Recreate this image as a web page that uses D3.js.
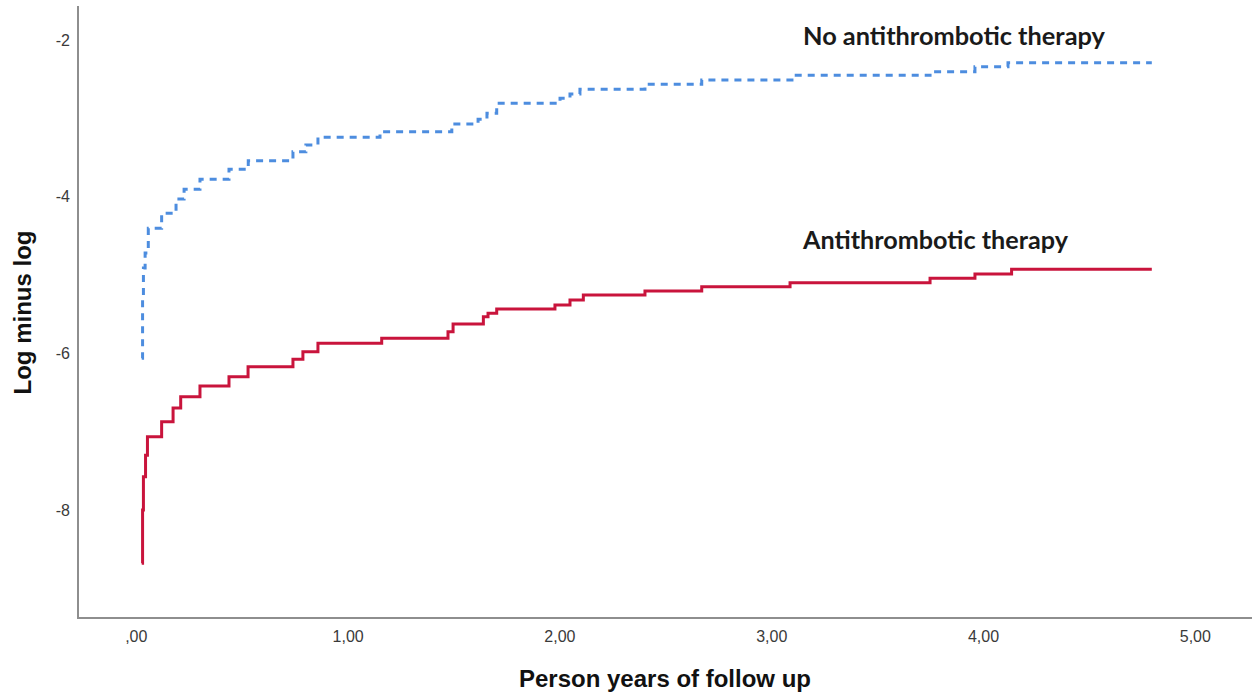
<!DOCTYPE html>
<html>
<head>
<meta charset="utf-8">
<script src="https://cdn.jsdelivr.net/npm/d3@7"></script>
<style>
  body { margin: 0; background: #fff; }
  svg { display: block; }
</style>
</head>
<body>
<div class="visual"></div>
<script>
// step points (time in years, log minus log value)
const redTimes  = [0.028, 0.032, 0.036, 0.046, 0.055, 0.122, 0.176, 0.212, 0.303, 0.440, 0.530, 0.742, 0.789, 0.860, 1.161, 1.474, 1.498, 1.641, 1.663, 1.704, 1.979, 2.050, 2.113, 2.404, 2.672, 3.089, 3.750, 3.962, 4.135, 4.797];
const redValues = [-8.68, -8.00, -7.575, -7.30, -7.064, -6.873, -6.698, -6.554, -6.417, -6.298, -6.171, -6.076, -5.979, -5.872, -5.808, -5.724, -5.626, -5.532, -5.489, -5.434, -5.383, -5.319, -5.255, -5.204, -5.149, -5.098, -5.042, -4.987, -4.927, -4.927];

const blueTimes  = [0.028, 0.032, 0.036, 0.044, 0.059, 0.122, 0.190, 0.228, 0.303, 0.440, 0.531, 0.742, 0.803, 0.860, 1.153, 1.492, 1.616, 1.658, 1.704, 2.003, 2.050, 2.097, 2.404, 2.672, 3.098, 3.750, 3.962, 4.118, 4.797];
const blueValues = [-6.064, -5.319, -4.911, -4.719, -4.404, -4.212, -4.030, -3.906, -3.778, -3.651, -3.541, -3.426, -3.340, -3.242, -3.171, -3.072, -3.012, -2.936, -2.808, -2.744, -2.689, -2.629, -2.566, -2.511, -2.451, -2.405, -2.341, -2.290, -2.290];

const xTicks = [0, 1, 2, 3, 4, 5];
const yTicks = [-2, -4, -6, -8];
const seriesLabels = ["No antithrombotic therapy", "Antithrombotic therapy"];

const width = 1252, height = 696;
const axisLeftX = 78, axisBottomY = 618, axisTopY = 6;

const svg = d3.select(".visual").append("svg")
    .attr("width", width)
    .attr("height", height);

const x = d3.scaleLinear().domain([0, 5]).range([135.8, 1194.8]);
const y = d3.scaleLinear().domain([-2, -8]).range([40, 510]);

const locale = d3.formatLocale({decimal: ",", thousands: ".", grouping: [3], currency: ["", ""], minus: "-"});
const fmt = locale.format(".2f");

// x axis labels
const gx = svg.append("g")
    .attr("transform", `translate(0,${axisBottomY})`)
    .call(d3.axisBottom(x).tickValues(xTicks).tickSize(0).tickPadding(12.5)
        .tickFormat(d => fmt(d).replace(/^0,/, ",")));
gx.select(".domain").remove();
gx.selectAll("text")
    .style("font-family", "'Liberation Sans', Arial, sans-serif")
    .style("font-size", "16px")
    .style("fill", "#3a3a3a");

// y axis labels
const gy = svg.append("g")
    .attr("transform", `translate(${axisLeftX},0)`)
    .call(d3.axisLeft(y).tickValues(yTicks).tickSize(0).tickPadding(8)
        .tickFormat(d => String(d)));
gy.select(".domain").remove();
gy.selectAll("text")
    .style("font-family", "'Liberation Sans', Arial, sans-serif")
    .style("font-size", "16px")
    .style("fill", "#3a3a3a");

// axis frame lines
svg.append("line")
    .attr("x1", axisLeftX).attr("x2", axisLeftX)
    .attr("y1", axisTopY).attr("y2", axisBottomY + 1)
    .style("stroke", "#8e8e8e").style("stroke-width", 2);
svg.append("line")
    .attr("x1", axisLeftX - 1).attr("x2", width)
    .attr("y1", axisBottomY).attr("y2", axisBottomY)
    .style("stroke", "#8e8e8e").style("stroke-width", 2);

const line = d3.line()
    .x(d => x(d[0]))
    .y(d => y(d[1]))
    .curve(d3.curveStepAfter);

svg.append("path")
    .datum(d3.zip(blueTimes, blueValues))
    .attr("d", line)
    .style("fill", "none")
    .style("stroke", "#4d8ddf")
    .style("stroke-width", 3)
    .style("stroke-dasharray", "7,6");

svg.append("path")
    .datum(d3.zip(redTimes, redValues))
    .attr("d", line)
    .style("fill", "none")
    .style("stroke", "#c9143c")
    .style("stroke-width", 3)
    .style("stroke-linejoin", "miter");

// series labels
function fitText(sel, target) {
    let size = 22;
    sel.style("font-size", size + "px");
    const w = sel.node().getComputedTextLength();
    sel.style("font-size", (size * target / w).toFixed(2) + "px");
}
const lab1 = svg.append("text")
    .attr("x", 803).attr("y", 44.5)
    .text(seriesLabels[0])
    .style("font-family", "Lato, 'Open Sans', sans-serif")
    .style("font-weight", 700)
    .style("fill", "#1a1a1a");
fitText(lab1, 302);
const lab2 = svg.append("text")
    .attr("x", 803).attr("y", 248.5)
    .text(seriesLabels[1])
    .style("font-family", "Lato, 'Open Sans', sans-serif")
    .style("font-weight", 700)
    .style("fill", "#1a1a1a");
fitText(lab2, 265);

// axis titles
svg.append("text")
    .attr("x", 665).attr("y", 687)
    .attr("text-anchor", "middle")
    .text("Person years of follow up")
    .style("font-family", "'Liberation Sans', Arial, sans-serif")
    .style("font-weight", 700)
    .style("font-size", "24px")
    .style("fill", "#111");
svg.append("text")
    .attr("transform", "translate(31,312.5) rotate(-90)")
    .attr("text-anchor", "middle")
    .text("Log minus log")
    .style("font-family", "'Liberation Sans', Arial, sans-serif")
    .style("font-weight", 700)
    .style("font-size", "24px")
    .style("fill", "#111");
</script>
</body>
</html>
